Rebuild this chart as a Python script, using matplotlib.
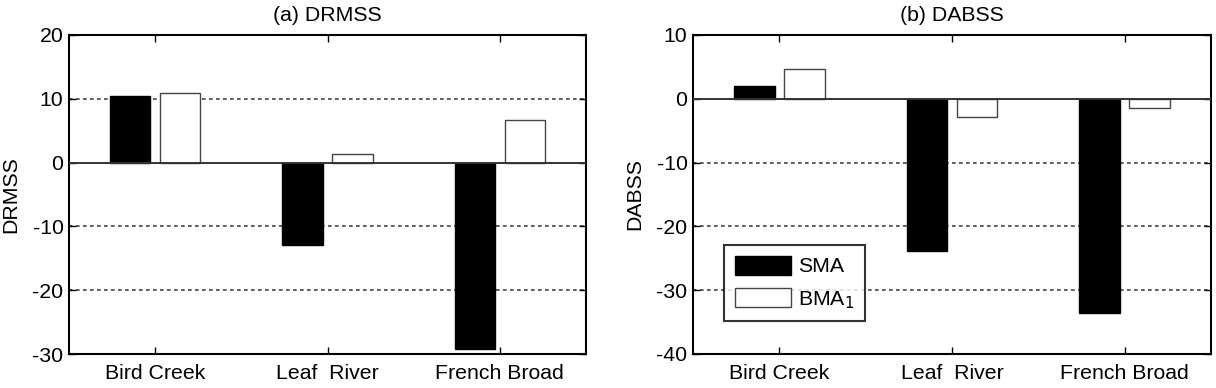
import numpy as np
import matplotlib.pyplot as plt

plt.rcParams['font.family'] = ['Liberation Sans', 'DejaVu Sans']

# ---- data ----
BASINS = ['Bird Creek', 'Leaf  River', 'French Broad']
DRMSS_SMA = [10.5, -12.9, -29.2]
DRMSS_BMA = [10.9, 1.3, 6.7]
DABSS_SMA = [2.0, -23.8, -33.5]
DABSS_BMA = [4.6, -2.9, -1.4]

DRMSS_TICKS = [-30, -20, -10, 0, 10, 20]
DABSS_TICKS = [-40, -30, -20, -10, 0, 10]

FS = 15.3
OFFSET = 0.145
WIDTH = 0.235


def draw_panel(ax, sma, bma, ticks, title, ylabel):
    x = np.arange(1, len(BASINS) + 1)
    ax.bar(x - OFFSET, sma, WIDTH, color='black', edgecolor='black',
           linewidth=1, label='SMA', zorder=3)
    ax.bar(x + OFFSET, bma, WIDTH, color='white', edgecolor='#444444',
           linewidth=1, label='BMA$_1$', zorder=3)

    # dotted grid lines at the non-zero ticks, solid line at zero
    for t in ticks[1:-1]:
        if t == 0:
            ax.axhline(0, color='#333333', linewidth=1.4, zorder=4)
        else:
            ax.axhline(t, color='#444444', linewidth=1.2,
                       linestyle=(0, (2.2, 2.0)), zorder=1)

    ax.set_xlim(0.5, len(BASINS) + 0.5)
    ax.set_ylim(ticks[0], ticks[-1])
    ax.set_xticks(x)
    ax.set_xticklabels(BASINS, fontsize=FS)
    ax.set_yticks(ticks)
    ax.set_yticklabels([str(t) for t in ticks], fontsize=FS)
    ax.tick_params(direction='in', length=5, width=1, top=True, right=True)
    ax.tick_params(axis='y', pad=4)
    ax.tick_params(axis='x', pad=7)
    for s in ax.spines.values():
        s.set_linewidth(1.5)
    ax.set_title(title, fontsize=FS, pad=10)
    ax.set_ylabel(ylabel, fontsize=FS, labelpad=9)


fig = plt.figure(figsize=(12.16, 3.88), dpi=100)
ax1 = fig.add_axes([69 / 1216, 1 - 354 / 388, 517 / 1216, 319 / 388])
ax2 = fig.add_axes([693 / 1216, 1 - 354 / 388, 518 / 1216, 319 / 388])

draw_panel(ax1, DRMSS_SMA, DRMSS_BMA, DRMSS_TICKS, '(a) DRMSS', 'DRMSS')
draw_panel(ax2, DABSS_SMA, DABSS_BMA, DABSS_TICKS, '(b) DABSS', 'DABSS')

leg = ax2.legend(loc='lower left', bbox_to_anchor=(0.06, 0.103),
                 fontsize=FS, frameon=True, fancybox=False,
                 handlelength=2.65, handleheight=1.0, handletextpad=0.35,
                 labelspacing=0.55, borderpad=0.5, borderaxespad=0)
leg.get_frame().set_edgecolor('black')
leg.get_frame().set_linewidth(1.5)
leg.set_zorder(6)

fig.savefig('out.png', dpi=100)
